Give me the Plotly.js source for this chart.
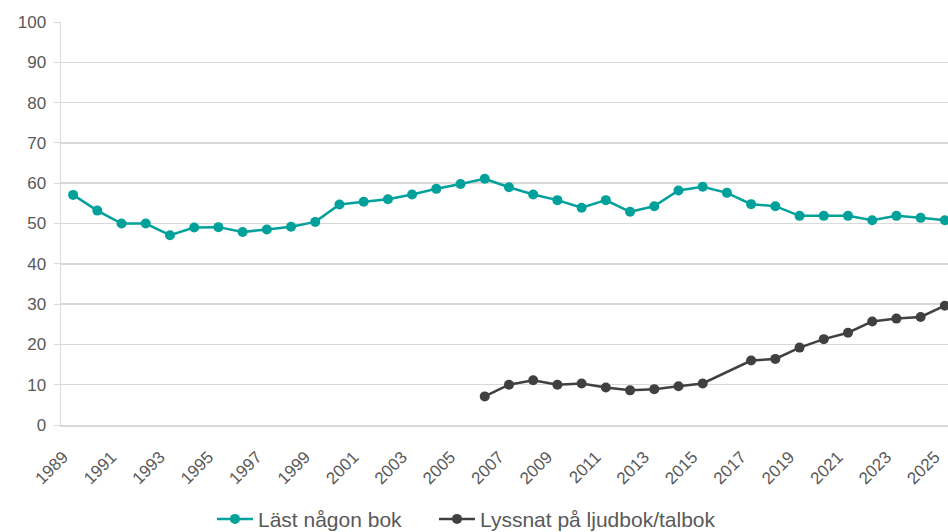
<!DOCTYPE html>
<html>
<head>
<meta charset="utf-8">
<script src="https://cdn.plot.ly/plotly-3.0.1.min.js"></script>
<style>html,body{margin:0;padding:0;background:#fff;}#chart{width:948px;height:532px;}</style>
</head>
<body>
<div id="chart"></div>
<script>
const years = [1989,1990,1991,1992,1993,1994,1995,1996,1997,1998,1999,2000,2001,2002,2003,2004,2005,2006,2007,2008,2009,2010,2011,2012,2013,2014,2015,2016,2017,2018,2019,2020,2021,2022,2023,2024,2025];
const lastBok = [57.1,53.2,50.0,50.0,47.1,49.0,49.1,47.9,48.5,49.2,50.4,54.7,55.4,56.0,57.2,58.6,59.8,61.1,59.0,57.2,55.8,53.9,55.8,52.9,54.3,58.2,59.1,57.6,54.8,54.3,51.9,51.9,51.9,50.8,51.9,51.4,50.8];
const ljudbok = [null,null,null,null,null,null,null,null,null,null,null,null,null,null,null,null,null,7.1,10.0,11.1,10.0,10.3,9.3,8.6,8.9,9.6,10.3,null,16.0,16.4,19.2,21.3,22.9,25.7,26.4,26.8,29.6];
const seriesNames = ["Läst någon bok","Lyssnat på ljudbok/talbok"];
const tickYears = years.filter(y => (y - 1989) % 2 === 0);

const traces = [
  {x: years, y: lastBok, name: seriesNames[0], type: 'scatter', mode: 'lines+markers', legend: 'legend',
   line: {color: '#00A19A', width: 2.5}, marker: {color: '#00A19A', size: 10}},
  {x: years, y: ljudbok, name: seriesNames[1], type: 'scatter', mode: 'lines+markers', connectgaps: true, legend: 'legend2',
   line: {color: '#404040', width: 2.5}, marker: {color: '#404040', size: 10}}
];
const legendCommon = {orientation: 'h', xref: 'container', xanchor: 'left', yref: 'container', y: 0.024, yanchor: 'middle',
                      font: {size: 21, color: '#595959'}, itemwidth: 36};
const layout = {
  width: 948, height: 532,
  margin: {l: 61, r: 0, t: 22, b: 107},
  paper_bgcolor: '#fff', plot_bgcolor: '#fff',
  font: {family: 'Liberation Sans, Arial, sans-serif', color: '#595959'},
  showlegend: true,
  legend: Object.assign({}, legendCommon, {x: 0.2236}),
  legend2: Object.assign({}, legendCommon, {x: 0.4578}),
  xaxis: {range: [1988.5, 2025.13], tickmode: 'array', tickvals: tickYears, ticktext: tickYears.map(String),
          tickangle: -45, tickfont: {size: 17, color: '#595959'}, showgrid: false, zeroline: false,
          showline: true, linecolor: '#d9d9d9', linewidth: 1.5, ticks: '', ticklabelstandoff: 14,
          ticklabelshift: -10, ticklabeloverflow: 'allow', automargin: false, fixedrange: true},
  yaxis: {range: [0, 100], dtick: 10, tickfont: {size: 17, color: '#595959'}, gridcolor: '#d9d9d9', gridwidth: 1.5,
          zeroline: false, showline: true, linecolor: '#d9d9d9', linewidth: 1.5, ticks: 'outside', ticklen: 6,
          tickcolor: '#d9d9d9', ticklabelstandoff: 4, automargin: false, fixedrange: true}
};
Plotly.newPlot('chart', traces, layout, {displayModeBar: false, staticPlot: true});
</script>
</body>
</html>
